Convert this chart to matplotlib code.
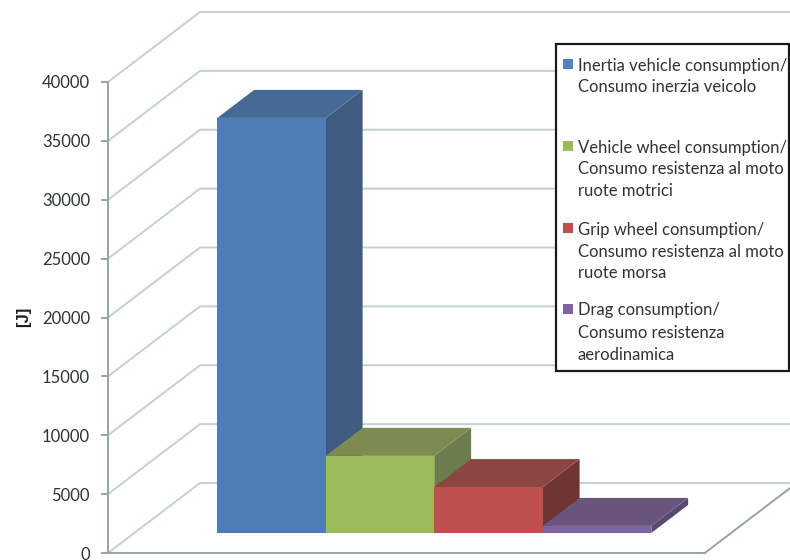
import matplotlib
matplotlib.use('Agg')
import matplotlib.pyplot as plt
from matplotlib.patches import Polygon, Rectangle

plt.rcParams['font.family'] = ['Lato', 'DejaVu Sans']

# values
series_names = [
    'Inertia vehicle consumption/\nConsumo inerzia veicolo',
    'Vehicle wheel consumption/\nConsumo resistenza al moto\nruote motrici',
    'Grip wheel consumption/\nConsumo resistenza al moto\nruote morsa',
    'Drag consumption/\nConsumo resistenza\naerodinamica',
]
values = [35250, 6550, 3900, 600]
y_ticks = [0, 5000, 10000, 15000, 20000, 25000, 30000, 35000, 40000]

front_colors = ['#4f7cb6', '#9bbb5c', '#c0504d', '#8064a2']
top_colors = ['#466a94', '#7f8a52', '#8b4542', '#69547c']
side_colors = ['#3f5b7e', '#6b7d4c', '#703533', '#5a4a72']
legend_colors = ['#4f81bd', '#9bbb59', '#c0504d', '#8064a2']

W, H = 790, 560
x0_px, x_unit = 108, 108.5
y0_px, y40k_px = 553, 82
val_per_px = 40000 / (y0_px - y40k_px)

floor_width = 5.5
first_bar = 0.765
wall_dx = 92 / x_unit
wall_dy = 70 * val_per_px
bar_front = 0.286
bar_back = 0.686

GRID = '#c5d0d1'
AXIS = '#98a3a6'
TEXT = '#2e3336'


def oblique(x, y, depth):
    # front plane (x, y) pushed back into the chart by depth (0..1)
    return (x + depth * wall_dx, y + depth * wall_dy)


fig = plt.figure(figsize=(W / 100, H / 100), dpi=100)
ax = fig.add_axes([0, 0, 1, 1])
ax.set_xlim(-x0_px / x_unit, (W - x0_px) / x_unit)
ax.set_ylim(-(H - y0_px) * val_per_px, y0_px * val_per_px)

# side wall and back wall gridlines
right_edge = ax.get_xlim()[1]
for v in y_ticks:
    bx, by = oblique(0, v, 1)
    ax.plot([0, bx, right_edge], [v, by, by], color=GRID, lw=1.4, zorder=1, solid_joinstyle='miter')

# floor edge on the right
fx, fy = oblique(floor_width, 0, 1)
ax.plot([floor_width, fx], [0, fy], color=AXIS, lw=1.4, zorder=1, clip_on=True)

# bars, left to right so the next one covers the previous side
for i, v in enumerate(values):
    left = first_bar + i
    right = left + 1
    fl = oblique(left, 0, bar_front)
    fr = oblique(right, 0, bar_front)
    tl = oblique(left, v, bar_front)
    tr = oblique(right, v, bar_front)
    bl_top = oblique(left, v, bar_back)
    br_top = oblique(right, v, bar_back)
    br_bot = oblique(right, 0, bar_back)
    ax.add_patch(Polygon([fr, br_bot, br_top, tr], fc=side_colors[i], ec='none', zorder=3))
    ax.add_patch(Polygon([tl, tr, br_top, bl_top], fc=top_colors[i], ec='none', zorder=3))
    ax.add_patch(Polygon([fl, fr, tr, tl], fc=front_colors[i], ec='none', zorder=3))

# axes
for s in ['top', 'right']:
    ax.spines[s].set_visible(False)
ax.spines['left'].set_position(('data', 0))
ax.spines['bottom'].set_position(('data', 0))
ax.spines['left'].set_bounds(0, 40000)
ax.spines['bottom'].set_bounds(0, floor_width)
for s in ['left', 'bottom']:
    ax.spines[s].set_color(AXIS)
    ax.spines[s].set_linewidth(1.4)
ax.set_xticks([])
ax.set_yticks(y_ticks)
ax.set_yticklabels([str(v) for v in y_ticks])
ax.tick_params(axis='y', length=5, width=1.4, color=AXIS, labelcolor=TEXT, labelsize=12, pad=8)

# y axis title
fig.text(24 / W, 1 - 317 / H, '[J]', rotation=90, ha='center', va='center',
         fontsize=12, fontweight='bold', color='#1e1e1e', family=['Liberation Sans'])

# legend box
fig.patches.append(Rectangle((556 / W, 1 - 371 / H), 233 / W, 327 / H, transform=fig.transFigure,
                             fc='white', ec='#1a1a1a', lw=1.6, zorder=5, figure=fig))
entry_y = [64, 146, 228, 309]
for name, col, y in zip(series_names, legend_colors, entry_y):
    fig.patches.append(Rectangle((563 / W, 1 - (y + 5) / H), 10 / W, 10 / H, transform=fig.transFigure,
                                 fc=col, ec='none', zorder=6, figure=fig))
    for j, line in enumerate(name.split('\n')):
        fig.text(578 / W, 1 - (y + 1.5 + j * 22) / H, line, ha='left', va='center',
                 fontsize=12, color=TEXT, zorder=7)

plt.savefig('out.png', dpi=100)
